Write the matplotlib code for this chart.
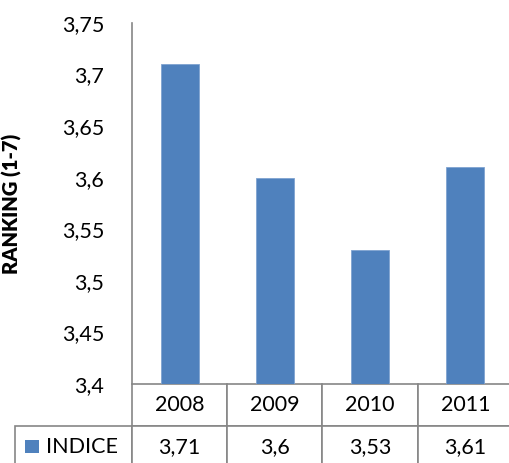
import numpy as np
import matplotlib.pyplot as plt
from matplotlib.table import Table
from matplotlib.patches import Rectangle
from matplotlib.ticker import FuncFormatter

years = ['2008', '2009', '2010', '2011']
indice = [3.71, 3.6, 3.53, 3.61]
series_name = 'INDICE'
y_ticks = [3.4, 3.45, 3.5, 3.55, 3.6, 3.65, 3.7, 3.75]

BLUE = '#4F81BD'
GRID = '#868686'
FS = 15.5


def comma(v):
    s = f'{v:.2f}'.rstrip('0').rstrip('.')
    return s.replace('.', ',')


def main():
    plt.rcParams['font.family'] = ['Lato', 'DejaVu Sans']
    fig = plt.figure(figsize=(5.10, 4.63), dpi=100)
    W, H = 510, 463
    # plot area in pixels: x 132..513, y 23..384
    ax = fig.add_axes([132 / W, 1 - 384 / H, 381 / W, 361 / H])

    x = np.arange(len(years))
    ax.bar(x, indice, width=0.4, color=BLUE, edgecolor='#7FA3D1', linewidth=0.6)

    ax.set_xlim(-0.5, len(years) - 0.5)
    ax.set_ylim(3.4, 3.75)
    ax.set_yticks(y_ticks)
    ax.yaxis.set_major_formatter(FuncFormatter(lambda v, p: comma(v)))
    ax.tick_params(axis='y', length=0, pad=20, labelsize=FS)
    ax.set_xticks([])

    for side in ['top', 'right', 'bottom']:
        ax.spines[side].set_visible(False)
    ax.spines['left'].set_color(GRID)
    ax.spines['left'].set_linewidth(1.2)

    ax.set_ylabel('RANKING (1-7)', fontsize=14.5, fontweight='heavy')
    ax.yaxis.set_label_coords((22 - 132) / 381, 0.5)

    # data table under the bars
    tbl = Table(ax, bbox=[(15 - 132) / 381, -(468 - 384) / 361,
                          (513 - 15) / 381, (468 - 384) / 361])
    label_w, col_w, row_h = 117, 95.25, 42
    for j, yr in enumerate(years):
        tbl.add_cell(0, j + 1, width=col_w, height=row_h, text=yr, loc='center')
        tbl.add_cell(1, j + 1, width=col_w, height=row_h, text=comma(indice[j]),
                     loc='center')
    tbl.add_cell(1, 0, width=label_w, height=row_h, text='', loc='left')
    tbl.auto_set_font_size(False)
    tbl.set_fontsize(FS)
    for cell in tbl.get_celld().values():
        cell.set_edgecolor(GRID)
        cell.set_linewidth(1.2)
    ax.add_table(tbl)

    # legend key + series name in the label cell
    ax.add_patch(Rectangle(((25 - 132) / 381, (384 - 453) / 361), 14 / 381, 13 / 361,
                           transform=ax.transAxes, facecolor=BLUE, edgecolor='none',
                           clip_on=False))
    ax.text((46 - 132) / 381, (384 - 447) / 361, series_name, transform=ax.transAxes,
            ha='left', va='center', fontsize=FS)

    fig.savefig('out.png', dpi=100)


if __name__ == '__main__':
    main()
